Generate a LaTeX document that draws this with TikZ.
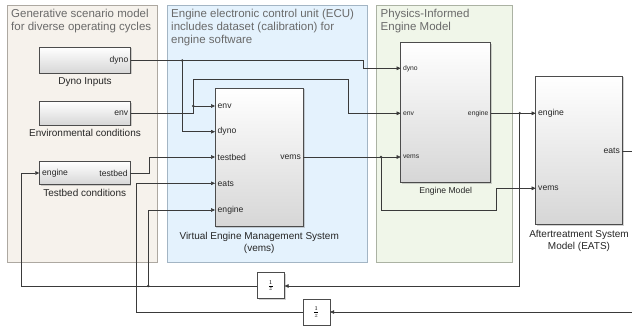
\documentclass[tikz,border=0pt]{standalone}
\usepackage{fontspec}
\setmainfont{Liberation Sans}
\usetikzlibrary{arrows.meta,shadows}
\definecolor{areaBeige}{HTML}{F6F2EC}
\definecolor{areaBeigeB}{HTML}{ADA8A1}
\definecolor{areaBlue}{HTML}{E4F2FD}
\definecolor{areaBlueB}{HTML}{A3B5C4}
\definecolor{areaGreen}{HTML}{F0F6E9}
\definecolor{areaGreenB}{HTML}{ABB2A3}
\definecolor{titleGray}{HTML}{6A6A6A}
\definecolor{wireC}{HTML}{3A3A3A}
\tikzset{
  area/.style={draw=#1B, fill=#1, line width=0.7pt},
  areatitle/.style={anchor=north west, align=left, text=titleGray, font=\fontsize{11.5}{13.3}\selectfont, inner sep=0pt},
  block/.style={draw=black!70, line width=0.6pt, top color=white, bottom color=black!16, shading angle=0,
    drop shadow={shadow xshift=1.2pt, shadow yshift=-1.2pt, opacity=0.35}, inner sep=0pt},
  delayblk/.style={draw=black!70, line width=0.6pt, fill=white,
    drop shadow={shadow xshift=1.2pt, shadow yshift=-1.2pt, opacity=0.35}, inner sep=0pt,
    minimum width=27pt, minimum height=26pt},
  blabel/.style={font=\fontsize{10}{12}\selectfont, text=black!85, inner sep=0pt, align=center},
  pin/.style={font=\fontsize{8.6}{10}\selectfont, text=black!85, inner sep=0pt, anchor=west},
  pout/.style={font=\fontsize{8.6}{10}\selectfont, text=black!85, inner sep=0pt, anchor=east},
  wire/.style={draw=wireC, line width=0.55pt},
  sig/.style={wire, -{Triangle[length=4pt,width=3.6pt]}},
  jdot/.style={circle, fill=wireC, inner sep=0pt, minimum size=2.8pt},
}
\begin{document}
\begin{tikzpicture}[x=1pt,y=-1pt]
\clip (0,0) rectangle (632,326);
\fill[white] (0,0) rectangle (632,326);

% areas
\node[area=areaBeige, minimum width=150pt, minimum height=256.7pt, inner sep=0pt, anchor=north west] (A1) at (7,5) {};
\node[area=areaBlue, minimum width=200pt, minimum height=256.7pt, inner sep=0pt, anchor=north west] (A2) at (166.7,5) {};
\node[area=areaGreen, minimum width=136pt, minimum height=256.7pt, inner sep=0pt, anchor=north west] (A3) at (376.3,5) {};
\node[areatitle] (T1) at (11,8.5) {Generative scenario model\\for diverse operating cycles};
\node[areatitle] (T2) at (171,8.5) {Engine electronic control unit (ECU)\\includes dataset (calibration) for\\engine software};
\node[areatitle] (T3) at (380.5,8.5) {Physics-Informed\\Engine Model};

% blocks
\node[block, minimum width=91.4pt, minimum height=26pt] (dyno) at (85,60.3) {};
\node[blabel, below=4pt] (dynoL) at (dyno.south) {Dyno Inputs};
\node[block, minimum width=91.4pt, minimum height=23.3pt] (env) at (85,113.35) {};
\node[blabel, below=4pt] (envL) at (env.south) {Environmental conditions};
\node[block, minimum width=90.7pt, minimum height=22.6pt] (tb) at (84.7,173) {};
\node[blabel, below=4pt] (tbL) at (tb.south) {Testbed conditions};

\node[block, minimum width=88.3pt, minimum height=138.4pt] (vems) at (259.2,157.5) {};
\node[blabel, below=5.5pt] (vemsL) at (vems.south) {Virtual Engine Management System\\(vems)};
\node[block, minimum width=90pt, minimum height=140pt] (em) at (445.7,112.7) {};
\node[blabel, below=4pt, font=\fontsize{8.6}{10}\selectfont] (emL) at (em.south) {Engine Model};
\node[block, minimum width=86.6pt, minimum height=148.3pt] (eats) at (579,150.2) {};
\node[blabel, below=5.5pt] (eatsL) at (eats.south) {Aftertreatment System\\Model (EATS)};

\node[delayblk] (d1) at (270.8,285.7) {\footnotesize$\frac{1}{z}$};
\node[delayblk] (d2) at (316.3,312) {\footnotesize$\frac{1}{z}$};

% ports
\coordinate (dynoO) at (130.7,60.5);
\node[pout] at (128.5,60.5) {dyno};
\coordinate (envO) at (130.7,113.3);
\node[pout] at (128.5,113.3) {env};
\coordinate (tbO) at (130,173);
\node[pout] at (127.8,173) {testbed};
\coordinate (tbI) at (39.3,173);
\node[pin] at (42,173) {engine};

\coordinate (vI1) at (215,106);
\coordinate (vI2) at (215,131.7);
\coordinate (vI3) at (215,157);
\coordinate (vI4) at (215,183.3);
\coordinate (vI5) at (215,210);
\node[pin] at (217.5,106) {env};
\node[pin] at (217.5,131.7) {dyno};
\node[pin] at (217.5,157) {testbed};
\node[pin] at (217.5,183.3) {eats};
\node[pin] at (217.5,210) {engine};
\coordinate (vO) at (303.4,157);
\node[pout] at (301,157) {vems};

\coordinate (eI1) at (400.7,68.3);
\coordinate (eI2) at (400.7,113.3);
\coordinate (eI3) at (400.7,157);
\node[pin, font=\fontsize{6.8}{8}\selectfont] at (402.8,68.3) {dyno};
\node[pin, font=\fontsize{6.8}{8}\selectfont] at (402.8,113.3) {env};
\node[pin, font=\fontsize{6.8}{8}\selectfont] at (402.8,157) {vems};
\coordinate (eO) at (490.7,113.3);
\node[pout, font=\fontsize{6.8}{8}\selectfont] at (488.6,113.3) {engine};

\coordinate (aI1) at (535.7,113.3);
\coordinate (aI2) at (535.7,188.3);
\node[pin] at (538,113.3) {engine};
\node[pin] at (538,188.3) {vems};
\coordinate (aO) at (622.3,151);
\node[pout] at (620,151) {eats};

% junctions
\coordinate (j1) at (182.3,60.5);
\coordinate (j2) at (193.3,106);
\coordinate (j3) at (381,157);
\coordinate (j4) at (519.7,113.3);
\coordinate (j5) at (148.3,286);

% wires
\draw[sig] (dynoO) -- (363.3,60.5) -- (363.3,68.3) -- (eI1);
\draw[sig] (j1) -- (182.3,131.7) -- (vI2);
\draw[sig] (envO) -- (193.3,113.3) -- (193.3,79) -- (348.3,79) -- (348.3,113.3) -- (eI2);
\draw[sig] (j2) -- (vI1);
\draw[sig] (tbO) -- (149.5,173) -- (149.5,157) -- (vI3);
\draw[sig] (vO) -- (eI3);
\draw[sig] (j3) -- (381,210.7) -- (496,210.7) -- (496,188.3) -- (aI2);
\draw[sig] (eO) -- (aI1);
\draw[sig] (j4) -- (519.7,286) -- (d1.east |- 0,286);
\draw[sig] (d1.west |- 0,286) -- (21.7,286) -- (21.7,173) -- (tbI);
\draw[sig] (j5) -- (148.3,210) -- (vI5);
\draw[sig] (aO) -- (645,151) -- (645,312) -- (d2.east);
\draw[sig] (d2.west) -- (136.7,312) -- (136.7,183.3) -- (vI4);

\foreach \j in {j1,j2,j3,j4,j5} \node[jdot] at (\j) {};
\end{tikzpicture}
\end{document}
